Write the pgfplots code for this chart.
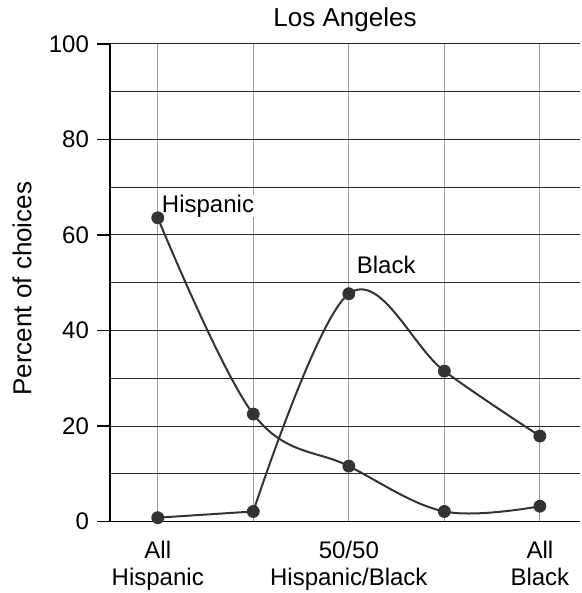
\documentclass[border=0pt]{standalone}
\usepackage{fontspec}
\setmainfont{Liberation Sans}
\usepackage{pgfplots}
\pgfplotsset{compat=1.18}
\begin{document}
\begin{tikzpicture}
\begin{axis}[
  scale only axis,
  width=235pt, height=238.75pt,
  xmin=-0.5, xmax=4.42,
  ymin=0, ymax=100,
  axis x line*=bottom, axis y line*=left,
  axis line style={black, line width=0.6pt, -},
  xtick={0,2,4},
  xticklabels={All\\Hispanic, 50/50\\Hispanic/Black, All\\Black},
  xticklabel style={align=center, font=\fontsize{12}{13.5}\selectfont},
  minor xtick={1,3},
  major x tick style={draw=none},
  minor x tick style={draw=none},
  xmajorgrids, xminorgrids,
  x grid style={gray!80, line width=0.6pt},
  ytick={0,20,...,100},
  minor ytick={10,30,50,70,90},
  ymajorgrids, yminorgrids,
  y grid style={black!85, line width=0.5pt},
  minor y tick style={draw=none},
  major y tick style={black, line width=0.6pt},
  tick align=outside,
  major tick length=6.5pt,
  /pgf/number format/assume math mode=true,
  yticklabel style={font=\fontsize{12}{13}\selectfont, xshift=-0.5pt},
  ylabel={Percent of choices},
  ylabel style={font=\fontsize{13}{15}\selectfont, at={(axis description cs:0,0.5)}, anchor=center, yshift=44pt, xshift=-3pt},
  title={Los Angeles},
  every axis title shift=0pt,
  title style={font=\fontsize{13}{15}\selectfont, at={(axis description cs:0.5,1)}, anchor=base, yshift=8.5pt},
  clip=false,
]
\addplot[black!80, line width=1pt, smooth, tension=0.6]
  coordinates {(0,63.6) (1,22.5) (2,11.6) (3,2.1) (4,3.2)};
\addplot[black!80, line width=1pt]
  coordinates {(0,0.8) (1,2.1)};
\addplot[black!80, line width=1pt, smooth, tension=0.6]
  coordinates {(1,2.1) (2,47.7) (3,31.5) (4,17.9)};
\addplot[only marks, mark=*, mark size=3pt, mark options={fill=black!80, draw=black!80}]
  coordinates {(0,63.6) (1,22.5) (2,11.6) (3,2.1) (4,3.2)};
\addplot[only marks, mark=*, mark size=3pt, mark options={fill=black!80, draw=black!80}]
  coordinates {(0,0.8) (1,2.1) (2,47.7) (3,31.5) (4,17.9)};
\node[anchor=base west, inner sep=0pt, fill=white, font=\fontsize{12}{14}\selectfont] at (axis cs:0.04,64.8) {Hispanic};
\node[anchor=base west, inner sep=0pt, fill=white, font=\fontsize{12}{14}\selectfont] at (axis cs:2.08,52) {Black};
\end{axis}
\pgfresetboundingbox
\path ([shift={(-55pt,-35.75pt)}]current axis.south west) rectangle ([shift={(236pt,260.75pt)}]current axis.south west);
\end{tikzpicture}
\end{document}
